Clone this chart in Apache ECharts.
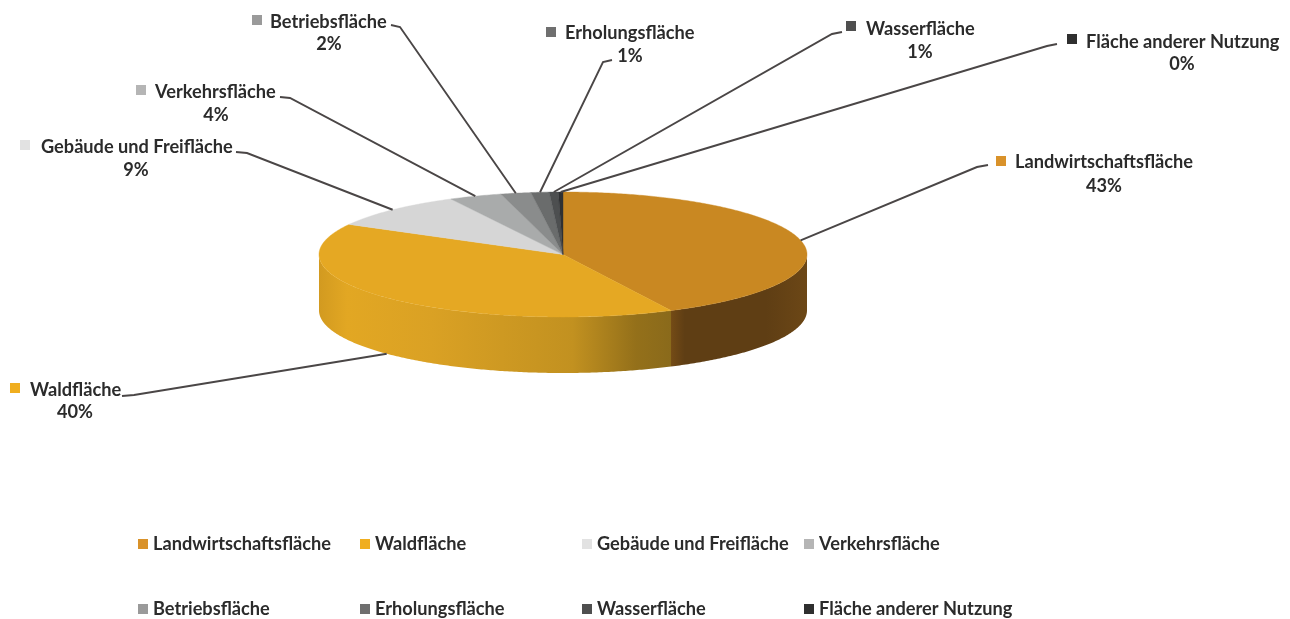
<!DOCTYPE html>
<html><head><meta charset="utf-8">
<style>html,body{margin:0;padding:0;background:#fff}#c{width:1290px;height:619px;filter:blur(.45px)}</style>
<script src="https://cdn.jsdelivr.net/npm/echarts@6/dist/echarts.min.js"></script>
</head><body><div id="c"></div>
<script>
const categories = ['Landwirtschaftsfläche','Waldfläche','Gebäude und Freifläche','Verkehrsfläche','Betriebsfläche','Erholungsfläche','Wasserfläche','Fläche anderer Nutzung'];
const shares = [42.7,40.3,9.4,3.5,2.0,1.2,0.6,0.3];
const percentLabels = ['43%','40%','9%','4%','2%','1%','1%','0%'];

const colors = ['#C98822','#E5A823','#D6D6D6','#A9ABAB','#8A8C8C','#6A6C6C','#4D4F50','#2F3133'];
const markerColors = ['#D9922A','#F0AE1F','#E2E2E2','#B5B5B5','#9A9A9A','#6F6F6F','#4F4F4F','#2F2F2F'];
const wallFills = [
  {type:'linear',x:0,y:0,x2:1,y2:0,colorStops:[{offset:0,color:'#744B16'},{offset:.1,color:'#5F3E14'},{offset:.7,color:'#5F3E14'},{offset:1,color:'#6C4716'}]},
  {type:'linear',x:0,y:0,x2:1,y2:0,colorStops:[{offset:0,color:'#D29A20'},{offset:.08,color:'#E2A723'},{offset:.32,color:'#DAA124'},{offset:.72,color:'#C29120'},{offset:.9,color:'#94701A'},{offset:1,color:'#8A6A1B'}]}
];
const geo = {cx:563, cy:254.5, rx:244, ry:62.5, depth:56};
// label layout: marker left/top, name left/centre, percent centre, leader elbow + end
const labelLayout = [
  {mx:996, my:156, tx:1015,ty:162, px:1104,py:186, elbow:[977,167], end:[988,165]},
  {mx:10,  my:383, tx:30,  ty:390, px:75,  py:412, elbow:[134,395], end:[122,396], bottom:true},
  {mx:20,  my:140, tx:41,  ty:147, px:136, py:170, elbow:[247,153], end:[236,152]},
  {mx:136, my:85,  tx:155, ty:92,  px:216, py:115, elbow:[290,98],  end:[280,97]},
  {mx:252, my:15,  tx:270, ty:22,  px:329, py:44,  elbow:[400,27],  end:[391,25]},
  {mx:546, my:27,  tx:565, ty:33,  px:630, py:56,  elbow:[603,62],  end:[612,60]},
  {mx:846, my:21,  tx:866, ty:29,  px:920, py:52,  elbow:[832,34],  end:[842,32]},
  {mx:1067,my:34,  tx:1086,ty:42,  px:1182,py:64,  elbow:[1047,46], end:[1057,44]}
];
const legendX = [138,360,582,804];
const legendY = [535,600];
const FONT = 'Lato, "Open Sans", sans-serif';
const TEXT = '#2B2B2B';
const FS = 18.2;

const total = shares.reduce((a,b)=>a+b,0);
const cumulative = shares.reduce((acc,v)=>{acc.push(acc[acc.length-1]+v);return acc;},[0]);
const toAngle = v => echarts.number.linearMap(v,[0,total],[0,Math.PI*2]);
const pt = (a,dz=0)=>[geo.cx+geo.rx*Math.sin(a), geo.cy-geo.ry*Math.cos(a)+dz];
function arc(a0,a1,dz){const n=Math.max(2,Math.ceil((a1-a0)/0.01));const r=[];for(let i=0;i<=n;i++)r.push(pt(a0+(a1-a0)*i/n,dz));return r;}

function renderSlice(i){
  return function(params,api){
    const a0=toAngle(cumulative[i]), a1=toAngle(cumulative[i]+api.value(0));
    const mid=(a0+a1)/2, L=labelLayout[i], children=[];
    const w0=Math.max(a0,Math.PI/2), w1=Math.min(a1,Math.PI*1.5);
    if(w1>w0){
      children.push({type:'polygon',z2:1,shape:{points:arc(w0,w1,0).concat(arc(w0,w1,geo.depth).reverse())},
        style:{fill:wallFills[i]||colors[i]}});
    }
    children.push({type:'polygon',z2:2,shape:{points:[[geo.cx,geo.cy]].concat(arc(a0,a1,0))},
      style:{fill:colors[i],stroke:colors[i],lineWidth:.4}});
    children.push({type:'polyline',z2:3,shape:{points:[pt(mid,L.bottom?geo.depth:0),L.elbow,L.end]},
      style:{fill:null,stroke:'#4A4646',lineWidth:1.9}});
    children.push({type:'rect',z2:4,shape:{x:L.mx,y:L.my,width:10,height:10},style:{fill:markerColors[i]}});
    children.push({type:'text',z2:4,style:{text:categories[i],x:L.tx,y:L.ty,align:'left',verticalAlign:'middle',
      font:'700 '+FS+'px '+FONT,fill:TEXT}});
    children.push({type:'text',z2:4,style:{text:percentLabels[i],x:L.px,y:L.py,align:'center',verticalAlign:'middle',
      font:'700 '+FS+'px '+FONT,fill:TEXT}});
    return {type:'group',children};
  };
}

const chart=echarts.init(document.getElementById('c'),null,{renderer:'canvas'});
chart.setOption({
  animation:false,
  backgroundColor:'#fff',
  color:colors,
  legend:categories.map((n,i)=>({
    data:[{name:n,itemStyle:{color:markerColors[i]}}],icon:'rect',itemWidth:10,itemHeight:10,padding:0,selectedMode:false,
    left:legendX[i%4],top:legendY[Math.floor(i/4)],
    textStyle:{fontFamily:FONT,fontWeight:700,fontSize:FS,color:TEXT,padding:[0,0,0,0]}
  })),
  series:categories.map((n,i)=>({
    type:'custom',name:n,coordinateSystem:'none',silent:true,
    itemStyle:{color:colors[i]},
    renderItem:renderSlice(i),
    data:[[shares[i]]]
  }))
});
</script></body></html>
